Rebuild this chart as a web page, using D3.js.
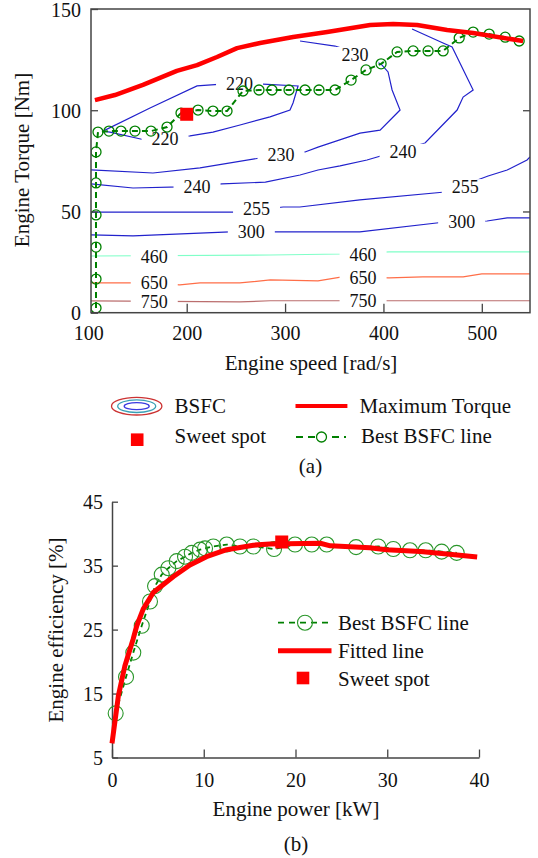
<!DOCTYPE html>
<html>
<head>
<meta charset="utf-8">
<title>Engine map</title>
<script src="https://cdn.jsdelivr.net/npm/d3@7/dist/d3.min.js"></script>
<style>
  body { margin: 0; background: #fff; }
  svg text { font-family: "Liberation Serif", "Times New Roman", serif; fill: #111; }
</style>
</head>
<body>
<div id="chart"></div>
<script>
// ---------- (a) engine map ----------
const speedTicks = [100, 200, 300, 400, 500];
const torqueTicks = [0, 50, 100, 150];

// maximum torque curve
const maxTorqueSpeed = [106.7, 127, 155.5, 190, 210.5, 230.8, 251.2, 274.6, 308.2, 342.8, 386.5, 409.9, 434.3, 464.7, 491.2, 542];
const maxTorqueValue = [105, 107.5, 112.5, 119.4, 122.3, 126.3, 130.7, 133.2, 136.2, 138.6, 142.1, 142.6, 142.1, 139.6, 138.1, 134.2];

// best BSFC operating line
const bestSpeed = [107.8, 107.8, 107.8, 107.8, 107.8, 107.8, 109.8, 121, 133.2, 147.4, 163.7, 180, 194.2, 211.5, 226.7, 241, 257.2, 273.5, 286.7, 304, 320.3, 334.5, 350.8, 367.1, 382.3, 397.6, 413.9, 430.2, 445.4, 460.7, 477, 491.2, 507.5, 523.8, 538];
const bestTorque = [2.3, 16.6, 32.4, 48.3, 64.1, 79.4, 89.2, 89.7, 89.7, 89.7, 89.7, 91.7, 98.6, 100.1, 99.6, 99.6, 109.5, 110, 110, 110, 110, 110, 110, 114.9, 119.9, 122.9, 128.8, 129.3, 129.3, 129.3, 135.7, 138.6, 137.6, 136.1, 134.2];

const sweetSpotA = [200, 98];

// BSFC iso-lines [g/kWh] as [speed, torque]
const bsfc220 = [[114.9, 89.7], [162.7, 101.1], [210.5, 112], [235.9, 112.9], [277.6, 112.9], [313.2, 112], [308.1, 103.6], [305, 100.1], [284.7, 96.7], [254.2, 92.7], [226.7, 89.2], [203.4, 87.3], [157.6, 85.3], [122, 89.2], [114.9, 89.7]];
const bsfc230 = [[102.7, 70.5], [165.7, 69], [213.5, 71.5], [274.5, 76.4], [320.3, 79.4], [333.5, 81.8], [376.2, 88.7], [396.6, 90.2], [416.9, 100.1], [408.8, 110], [404.7, 118.9], [398.6, 122.3], [386.4, 126.3], [350.8, 131.7], [315.2, 134.2]];
const bsfc240 = [[102.7, 63.6], [145.4, 61.6], [193.2, 62.1], [235.9, 63.6], [280, 64.5], [315.2, 68], [333.5, 70.5], [355.9, 72.5], [383.3, 75.4], [442.3, 83.8], [474.9, 100.1], [481, 106.5], [491.2, 110], [469.8, 131.2], [460.6, 133.2], [429.1, 140.1]];
const bsfc255 = [[102.7, 49.7], [254, 49.7], [298, 52.2], [315, 52.2], [376, 55.7], [462.7, 59.6], [506.4, 67.5], [525.8, 70.5], [546, 75.4], [549, 76.9]];
const bsfc300 = [[102.7, 38.4], [145.4, 37.9], [244, 39.9], [292, 39.9], [376, 39.9], [462.7, 44.8], [505.4, 45.3], [525.8, 46.8], [549, 46.8]];
const bsfc460 = [[102.7, 28], [285, 28.5], [358, 29], [405.7, 30], [549, 30]];
const bsfc650 = [[102.7, 14.7], [147.5, 14.7], [193, 13.7], [213.5, 14.7], [254, 14.7], [285, 16.2], [333.5, 15.7], [358, 17.7], [405.7, 17.2], [440, 17.7], [481, 17.7], [500, 19.2], [549, 19.2]];
const bsfc750 = [[102.7, 5.8], [254, 5.3], [285, 5.9], [549, 5.9]];

// where the level labels sit on each line
const label220 = [[253.7, 113.3], [178, 86.1]];
const label230 = [[295.9, 77.9], [371.2, 127.3]];
const label240 = [[210.5, 62.2], [420, 79.5]];
const label255 = [[271, 51.2], [483.2, 62]];
const label300 = [[265.7, 39.9], [479.5, 44.8]];
const label460 = [[167, 27.5], [379.3, 28.5]];
const label650 = [[167, 14.7], [379.3, 17.2]];
const label750 = [[167, 5.6], [379.3, 5.9]];

const bsfcLevels = [220, 230, 240, 255, 300, 460, 650, 750];

// ---------- (b) efficiency vs power ----------
const powerTicks = [0, 10, 20, 30, 40];
const effTicks = [5, 15, 25, 35, 45];

const bestPower = [0.4, 1.53, 2.32, 3.24, 4.14, 4.69, 5.42, 6.14, 7.05, 7.96, 8.69, 9.59, 10.14, 11.04, 12.5, 13.95, 15.4, 17.66, 19.95, 21.77, 23.4, 26.6, 29.02, 30.66, 32.48, 34.19, 35.93, 37.57];
const bestEff = [11.9, 17.6, 21.4, 25.6, 29.4, 31.8, 33.6, 34.6, 35.7, 36.4, 37.0, 37.5, 37.7, 38.0, 38.3, 38.0, 38.0, 37.6, 38.3, 38.3, 38.3, 37.9, 38.0, 37.6, 37.4, 37.4, 37.2, 37.0];

const fitPower = [0, 0.7, 1.4, 2.3, 2.7, 3.4, 4.5, 6.7, 8.5, 10.3, 12.5, 15.4, 17.2, 22.7, 23.8, 28.1, 29.9, 33.6, 36.8, 39.8];
const fitEff = [7.2, 14.7, 19.3, 23.5, 25.6, 28.2, 30.8, 33.3, 35.1, 36.4, 37.5, 38.2, 38.4, 38.5, 38.1, 37.8, 37.5, 37.2, 36.8, 36.35];

const sweetSpotB = [18.5, 38.7];

// ---------- drawing ----------
const width = 538, height = 858;
const axisColor = '#444';
const green = '#008000';
const red = '#ff0000';
const blue = '#2222cc';
const levelColor = {220: blue, 230: blue, 240: blue, 255: blue, 300: blue, 460: '#80ffc8', 650: '#ff6e48', 750: '#bb6e6e'};

const svg = d3.select('#chart').append('svg')
  .attr('width', width)
  .attr('height', height)
  .style('background', '#fff');

function styleAxis(g, size) {
  g.attr('font-family', '"Liberation Serif", "Times New Roman", serif')
    .attr('font-size', size);
  g.selectAll('.tick line').attr('stroke', axisColor).attr('stroke-width', 1.3);
  g.selectAll('.tick text').attr('fill', '#111');
  g.select('.domain').attr('stroke', axisColor).attr('stroke-width', 1.5);
}

// ===== panel (a) =====
const xA = d3.scaleLinear().domain([102.7, 549]).range([91, 530]);
const yA = d3.scaleLinear().domain([0, 150]).range([312.7, 9]);

svg.append('clipPath').attr('id', 'clipA')
  .append('rect')
    .attr('x', xA.range()[0]).attr('y', yA.range()[1])
    .attr('width', xA.range()[1] - xA.range()[0])
    .attr('height', yA.range()[0] - yA.range()[1]);

const plotA = svg.append('g').attr('clip-path', 'url(#clipA)');

const contourTable = [
  {level: 220, pts: bsfc220, labels: label220},
  {level: 230, pts: bsfc230, labels: label230},
  {level: 240, pts: bsfc240, labels: label240},
  {level: 255, pts: bsfc255, labels: label255},
  {level: 300, pts: bsfc300, labels: label300},
  {level: 460, pts: bsfc460, labels: label460},
  {level: 650, pts: bsfc650, labels: label650},
  {level: 750, pts: bsfc750, labels: label750}
];

const contourLine = d3.line().x(d => xA(d[0])).y(d => yA(d[1]));

plotA.append('g').selectAll('path')
  .data(contourTable)
  .join('path')
    .attr('d', d => contourLine(d.pts))
    .attr('fill', 'none')
    .attr('stroke', d => levelColor[d.level])
    .attr('stroke-width', 1.2);

// label gaps + labels
const maskG = plotA.append('g');
const textG = plotA.append('g');
contourTable.forEach(c => {
  c.labels.forEach(p => {
    const t = textG.append('text')
      .attr('x', xA(p[0]))
      .attr('y', yA(p[1]))
      .attr('dy', '0.35em')
      .attr('text-anchor', 'middle')
      .attr('font-size', 18)
      .text(c.level);
    const bb = t.node().getBBox();
    maskG.append('rect')
      .attr('x', xA(p[0]) - bb.width / 2 - 10)
      .attr('y', yA(p[1]) - 8)
      .attr('width', bb.width + 20)
      .attr('height', 16)
      .attr('fill', '#fff');
  });
});

// best BSFC line
const bestA = d3.zip(bestSpeed, bestTorque);
plotA.append('path')
  .attr('d', d3.line().x(d => xA(d[0])).y(d => yA(d[1]))(bestA))
  .attr('fill', 'none')
  .attr('stroke', green)
  .attr('stroke-width', 2)
  .attr('stroke-dasharray', '6,4');
plotA.append('g').selectAll('circle')
  .data(bestA)
  .join('circle')
    .attr('cx', d => xA(d[0]))
    .attr('cy', d => yA(d[1]))
    .attr('r', 5)
    .attr('fill', 'none')
    .attr('stroke', green)
    .attr('stroke-width', 1.3);

// maximum torque
plotA.append('path')
  .attr('d', d3.line().x(d => xA(d[0])).y(d => yA(d[1]))(d3.zip(maxTorqueSpeed, maxTorqueValue)))
  .attr('fill', 'none')
  .attr('stroke', red)
  .attr('stroke-width', 4.5)
  .attr('stroke-linejoin', 'round');

// sweet spot
plotA.append('rect')
  .attr('x', xA(sweetSpotA[0]) - 6.5)
  .attr('y', yA(sweetSpotA[1]) - 6.5)
  .attr('width', 13).attr('height', 13)
  .attr('fill', red);

// frame
svg.append('rect')
  .attr('x', xA.range()[0]).attr('y', yA.range()[1])
  .attr('width', xA.range()[1] - xA.range()[0])
  .attr('height', yA.range()[0] - yA.range()[1])
  .attr('fill', 'none')
  .attr('stroke', axisColor)
  .attr('stroke-width', 1.5);

const axBottomA = svg.append('g')
  .attr('transform', `translate(0,${yA(0)})`)
  .call(d3.axisBottom(xA).tickValues(speedTicks).tickSizeInner(-9).tickSizeOuter(0).tickPadding(13));
axBottomA.select('.domain').remove();
axBottomA.selectAll('.tick').filter(d => d < xA.domain()[0]).select('line').remove();
styleAxis(axBottomA, 20);

const axLeftA = svg.append('g')
  .attr('transform', `translate(${xA.range()[0]},0)`)
  .call(d3.axisLeft(yA).tickValues(torqueTicks).tickSizeInner(-7).tickSizeOuter(0).tickPadding(10));
axLeftA.select('.domain').remove();
styleAxis(axLeftA, 20);
axLeftA.selectAll('.tick text').attr('dy', '0.36em');

const axRightA = svg.append('g')
  .attr('transform', `translate(${xA.range()[1]},0)`)
  .call(d3.axisRight(yA).tickValues([50, 100]).tickSizeInner(-7).tickSizeOuter(0).tickFormat(''));
axRightA.select('.domain').remove();
styleAxis(axRightA, 20);

svg.append('text')
  .attr('transform', 'translate(29,160) rotate(-90)')
  .attr('text-anchor', 'middle')
  .attr('font-size', 21)
  .text('Engine Torque [Nm]');

svg.append('text')
  .attr('x', 311).attr('y', 370)
  .attr('text-anchor', 'middle')
  .attr('font-size', 21)
  .text('Engine speed [rad/s]');

// legend (a)
const legA = svg.append('g');
[[25.2, 8.8, '#cc3333'], [19, 6.3, '#3aa0b5'], [12.5, 3.5, '#3a3ae0']].forEach(e => {
  legA.append('ellipse')
    .attr('cx', 136.7).attr('cy', 406.2)
    .attr('rx', e[0]).attr('ry', e[1])
    .attr('fill', 'none')
    .attr('stroke', e[2])
    .attr('stroke-width', 1.3);
});
legA.append('text').attr('x', 174.6).attr('y', 413).attr('font-size', 21).text('BSFC');
legA.append('line')
  .attr('x1', 295.5).attr('x2', 347.4).attr('y1', 406).attr('y2', 406)
  .attr('stroke', red).attr('stroke-width', 4);
legA.append('text').attr('x', 359.5).attr('y', 413).attr('font-size', 21).text('Maximum Torque');
legA.append('rect')
  .attr('x', 137.2 - 6.3).attr('y', 439.7 - 6.3)
  .attr('width', 12.6).attr('height', 12.6)
  .attr('fill', red);
legA.append('text').attr('x', 174.6).attr('y', 443).attr('font-size', 21).text('Sweet spot');
legA.append('line')
  .attr('x1', 296).attr('x2', 346).attr('y1', 437).attr('y2', 437)
  .attr('stroke', green).attr('stroke-width', 2).attr('stroke-dasharray', '7,5');
legA.append('circle')
  .attr('cx', 321.5).attr('cy', 437).attr('r', 5)
  .attr('fill', '#fff').attr('stroke', green).attr('stroke-width', 1.3);
legA.append('text').attr('x', 361).attr('y', 443).attr('font-size', 21).text('Best BSFC line');

svg.append('text')
  .attr('x', 310.5).attr('y', 473)
  .attr('text-anchor', 'middle')
  .attr('font-size', 21)
  .text('(a)');

// ===== panel (b) =====
const xB = d3.scaleLinear().domain([0, 40]).range([112, 479]);
const yB = d3.scaleLinear().domain([5, 45]).range([757.5, 501.7]);

const axBottomB = svg.append('g')
  .attr('transform', `translate(0,${yB.range()[0]})`)
  .call(d3.axisBottom(xB).tickValues(powerTicks).tickSizeInner(-8).tickSizeOuter(0).tickPadding(15));
styleAxis(axBottomB, 20);

const axLeftB = svg.append('g')
  .attr('transform', `translate(${xB.range()[0]},0)`)
  .call(d3.axisLeft(yB).tickValues(effTicks).tickSizeInner(-6).tickSizeOuter(0).tickPadding(9));
styleAxis(axLeftB, 20);
axLeftB.selectAll('.tick text').attr('dy', '0.36em');

const bestB = d3.zip(bestPower, bestEff);
const lineB = d3.line().x(d => xB(d[0])).y(d => yB(d[1]));

svg.append('path')
  .attr('d', lineB(bestB))
  .attr('fill', 'none')
  .attr('stroke', green)
  .attr('stroke-width', 1.8)
  .attr('stroke-dasharray', '5,4');
svg.append('g').selectAll('circle')
  .data(bestB)
  .join('circle')
    .attr('cx', d => xB(d[0]))
    .attr('cy', d => yB(d[1]))
    .attr('r', 7.5)
    .attr('fill', 'none')
    .attr('stroke', '#2a962a')
    .attr('stroke-width', 1.1);

svg.append('path')
  .attr('d', lineB(d3.zip(fitPower, fitEff)))
  .attr('fill', 'none')
  .attr('stroke', red)
  .attr('stroke-width', 5)
  .attr('stroke-linejoin', 'round');

svg.append('rect')
  .attr('x', xB(sweetSpotB[0]) - 6.5)
  .attr('y', yB(sweetSpotB[1]) - 6.5)
  .attr('width', 13).attr('height', 13)
  .attr('fill', red);

svg.append('text')
  .attr('transform', 'translate(63,630) rotate(-90)')
  .attr('text-anchor', 'middle')
  .attr('font-size', 21)
  .text('Engine efficiency [%]');

svg.append('text')
  .attr('x', 296).attr('y', 816)
  .attr('text-anchor', 'middle')
  .attr('font-size', 21)
  .text('Engine power [kW]');

// legend (b)
const legB = svg.append('g');
legB.append('line')
  .attr('x1', 278).attr('x2', 328).attr('y1', 622.7).attr('y2', 622.7)
  .attr('stroke', green).attr('stroke-width', 1.8).attr('stroke-dasharray', '6,5');
legB.append('circle')
  .attr('cx', 305).attr('cy', 622.7).attr('r', 7.5)
  .attr('fill', 'none').attr('stroke', '#2a962a').attr('stroke-width', 1.1);
legB.append('text').attr('x', 338).attr('y', 629.5).attr('font-size', 21).text('Best BSFC line');
legB.append('line')
  .attr('x1', 278).attr('x2', 331.5).attr('y1', 650.7).attr('y2', 650.7)
  .attr('stroke', red).attr('stroke-width', 5);
legB.append('text').attr('x', 338).attr('y', 657.5).attr('font-size', 21).text('Fitted line');
legB.append('rect')
  .attr('x', 303 - 6.3).attr('y', 678 - 6.3)
  .attr('width', 12.6).attr('height', 12.6)
  .attr('fill', red);
legB.append('text').attr('x', 338).attr('y', 685.5).attr('font-size', 21).text('Sweet spot');

svg.append('text')
  .attr('x', 296).attr('y', 851)
  .attr('text-anchor', 'middle')
  .attr('font-size', 21)
  .text('(b)');
</script>
</body>
</html>
